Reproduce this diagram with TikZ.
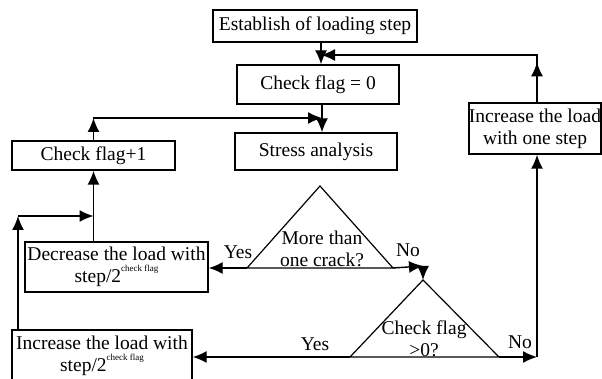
\documentclass[tikz,border=0pt]{standalone}
\usepackage{fontspec}
\setmainfont{Liberation Serif}
\usetikzlibrary{arrows.meta}
\newcommand{\cfsup}{\raisebox{1.2ex}{\fontsize{9}{9}\selectfont check flag}}
\tikzset{
  box/.style={draw, line width=1.4pt, inner sep=0pt, align=center, font=\fontsize{19.5}{22}\selectfont},
  arr/.style={line width=1.4pt, -{Latex[length=14pt,width=12pt]}},
  lab/.style={font=\fontsize{19.5}{22}\selectfont, inner sep=0pt, align=center}
}

\begin{document}
\begin{tikzpicture}[x=1pt,y=-1pt]
\clip (0,0) rectangle (602,379);
\node[box, minimum width=204pt, minimum height=32pt] (est) at (315,26) {Establish of loading step};
\node[box, minimum width=162pt, minimum height=39pt] (chk0) at (318,84.5) {Check flag = 0};
\node[box, minimum width=162pt, minimum height=37pt] (stress) at (316,151.5) {Stress analysis};
\node[box, minimum width=132pt, minimum height=51pt] (inc1) at (535,128.5) {Increase the load\\with one step};
\node[box, minimum width=163pt, minimum height=29pt] (cf1) at (93.5,155.5) {Check flag+1};
\node[box, minimum width=183pt, minimum height=50pt] (dec) at (116.5,267) {Decrease the load with\\step/2\cfsup};
\node[box, minimum width=180pt, minimum height=52pt] (inc2) at (102,356) {Increase the load with\\step/2\cfsup};

% decisions
\coordinate (t1a) at (320,186);
\coordinate (t1l) at (247,268);
\coordinate (t1r) at (393,268);
\draw[line width=1.2pt] (t1l) -- (t1a) -- (t1r) -- cycle;
\node[lab] (q1) at (322,249) {More than\\one crack?};
\coordinate (t2a) at (423,280);
\coordinate (t2l) at (350,357);
\coordinate (t2r) at (499,357);
\draw[line width=1.2pt] (t2l) -- (t2a) -- (t2r) -- cycle;
\node[lab] (q2) at (424,338.5) {Check flag\\>0?};

% junctions
\coordinate (j1) at (321,55);
\coordinate (j2) at (322,118);
\coordinate (l1) at (18,216);
\coordinate (jn) at (423,266);
\coordinate (rt) at (537,357);

\draw[arr] (est.south -| j1) -- (chk0.north -| j1);
\draw[arr] (rt |- inc1.north) -- ++(0,-40);
\draw[arr] (rt |- inc1.north) |- (j1);
\draw[arr] (chk0.south -| j2) -- (stress.north -| j2);
\draw[arr] (cf1.north) -- (cf1.north |- j2);
\draw[arr] (cf1.north) |- (j2);
\draw[arr] (dec.north -| cf1) -- (cf1.south);
\draw[arr] (l1 |- inc2.north) -- (l1);
\draw[arr] (l1) -- (l1 -| cf1);
\draw[arr] (t1l) -- (t1l -| dec.east);
\draw[arr] (t1r) -- (jn);
\draw[arr] (jn) -- (t2a);
\draw[arr] (t2l) -- (t2l -| inc2.east);
\draw[arr] (t2r) -- (rt);
\draw[arr] (rt) -- (rt |- inc1.south);

\node[lab] (y1) at (238,252) {Yes};
\node[lab] (n1) at (408,250) {No};
\node[lab] (y2) at (315,344) {Yes};
\node[lab] (n2) at (520,342) {No};
\end{tikzpicture}
\end{document}
